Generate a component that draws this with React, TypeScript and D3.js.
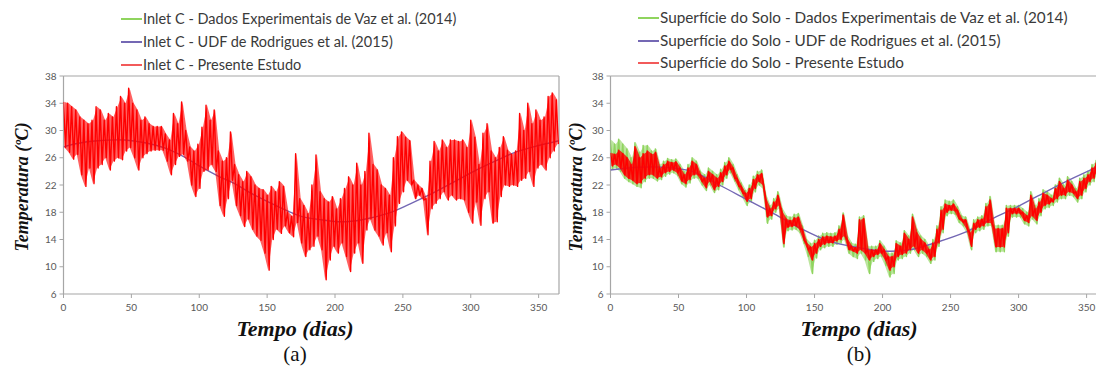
import React from 'react';
import * as d3 from 'd3';

// ---------- data ----------
const yTicks = [6, 10, 14, 18, 22, 26, 30, 34, 38];
const xTicks = [0, 50, 100, 150, 200, 250, 300, 350];
const sampleStep = 3; // days between samples of the daily max/min envelopes

const legendA = [
  'Inlet C - Dados Experimentais de Vaz et al. (2014)',
  'Inlet C - UDF de Rodrigues et al. (2015)',
  'Inlet C - Presente Estudo',
];
const legendB = [
  'Superfície do Solo - Dados Experimentais de Vaz et al. (2014)',
  'Superfície do Solo - UDF de Rodrigues et al. (2015)',
  'Superfície do Solo - Presente Estudo',
];

// Panel (a) – Presente Estudo, daily maxima / minima every 3 days
const redAMax = [34.2, 34.0, 33.5, 33.0, 32.0, 31.5, 31.0, 31.5, 33.5, 33.0, 31.5, 32.5, 32.0, 33.5, 35.0, 34.0, 36.2, 34.0, 33.0, 31.5,
  32.0, 31.0, 30.6, 30.6, 30.6, 29.5, 28.6, 32.5, 31.0, 34.2, 30.0, 27.6, 27.0, 28.0, 30.5, 33.7, 31.5, 33.0, 27.0, 25.5,
  26.0, 29.8, 25.0, 23.5, 22.5, 24.0, 23.2, 22.0, 21.5, 21.3, 20.5, 21.8, 21.0, 22.5, 21.8, 18.0, 17.4, 26.6, 20.0, 19.0,
  17.8, 22.0, 26.4, 21.0, 20.0, 19.5, 20.3, 18.5, 20.0, 21.5, 23.2, 22.0, 25.2, 22.0, 24.0, 29.6, 25.0, 24.2, 22.0, 21.5,
  20.5, 26.0, 29.1, 29.8, 29.0, 28.5, 22.7, 22.0, 21.5, 20.0, 25.5, 28.4, 27.0, 28.6, 27.5, 28.6, 28.6, 28.4, 28.6, 27.5,
  31.5, 29.0, 25.0, 29.6, 31.0, 27.0, 26.0, 27.5, 29.1, 27.1, 26.5, 27.0, 32.5, 30.0, 34.0, 31.0, 33.0, 31.5, 32.0, 35.0,
  35.5, 34.5];
const redAMin = [27.5, 26.8, 25.8, 26.5, 23.5, 21.8, 24.5, 22.2, 24.5, 25.0, 26.0, 24.2, 25.5, 26.0, 25.7, 27.0, 27.5, 26.0, 24.2, 26.0,
  26.6, 27.0, 27.1, 27.1, 27.1, 25.5, 23.5, 25.0, 26.2, 26.5, 25.5, 22.0, 20.3, 21.5, 24.0, 24.2, 25.0, 24.0, 19.0, 17.4,
  20.0, 22.7, 19.0, 17.5, 15.9, 17.0, 15.5, 14.5, 13.9, 12.0, 9.5, 14.0, 15.5, 14.9, 16.0, 15.0, 14.4, 16.5, 13.5, 11.5,
  12.5, 13.0, 14.5, 12.5, 8.1, 11.0, 13.0, 12.0, 13.5, 11.5, 9.3, 12.0, 13.5, 10.5, 15.4, 17.0, 15.4, 14.5, 13.2, 15.0,
  12.2, 16.0, 19.3, 21.0, 22.7, 22.0, 20.0, 20.5, 19.8, 14.7, 18.5, 19.3, 20.0, 21.0, 19.8, 20.5, 19.8, 20.0, 19.8, 18.0,
  16.4, 19.5, 16.1, 20.0, 21.0, 16.4, 16.6, 20.3, 22.0, 21.8, 22.0, 21.8, 22.7, 23.0, 24.0, 21.8, 24.5, 25.0, 24.2, 26.0,
  27.0, 28.0];

// Panel (a) – UDF de Rodrigues
const udfADays = [0, 10, 25, 45, 60, 75, 90, 100, 115, 125, 140, 150, 165, 175, 190, 205, 220, 240, 255, 272, 290, 304, 320, 334, 350, 365];
const udfAVals = [27.6, 28.1, 28.5, 28.6, 28.2, 27.4, 26.0, 24.8, 23.2, 22.3, 20.6, 19.6, 18.2, 17.4, 16.9, 16.6, 16.9, 17.9, 19.2, 20.8, 22.7, 24.2, 25.7, 26.9, 27.8, 28.5];

// Panel (b) – Presente Estudo, daily maxima / minima every 3 days
const redBMax = [26.7, 26.5, 27.1, 26.6, 26.0, 25.0, 27.6, 26.0, 26.6, 27.0, 26.5, 26.8, 24.5, 25.0, 25.5, 25.3, 25.4, 24.5, 23.5, 24.5,
  25.5, 25.0, 23.5, 23.0, 24.0, 23.5, 23.0, 23.8, 24.8, 25.5, 24.5, 23.0, 21.8, 20.8, 21.5, 22.8, 23.5, 23.7, 20.0, 18.5,
  19.5, 20.5, 18.0, 17.0, 16.8, 17.2, 17.3, 15.5, 13.5, 12.9, 13.4, 14.0, 14.4, 14.5, 14.4, 14.5, 15.5, 17.6, 14.0, 13.0,
  12.8, 16.9, 17.1, 12.5, 12.5, 12.5, 13.4, 12.5, 11.5, 11.5, 13.4, 13.0, 14.9, 14.0, 17.3, 15.0, 14.0, 13.5, 12.5, 13.5,
  15.5, 18.3, 19.2, 19.0, 19.2, 18.3, 17.0, 16.9, 15.0, 16.4, 16.9, 17.0, 18.8, 19.8, 15.6, 15.6, 15.6, 18.6, 18.6, 18.6,
  18.6, 18.0, 17.5, 20.5, 18.5, 19.5, 20.8, 20.5, 20.0, 21.5, 22.5, 21.5, 22.7, 22.0, 21.0, 22.5, 23.0, 23.5, 24.5, 25.2,
  25.5, 26.0];
const redBMin = [24.8, 25.0, 24.5, 23.5, 23.0, 22.7, 22.2, 22.3, 23.0, 23.5, 23.5, 23.0, 23.2, 23.8, 24.0, 24.2, 23.8, 22.6, 22.2, 22.8,
  23.5, 23.5, 22.5, 21.6, 22.5, 21.3, 21.8, 22.5, 23.5, 24.3, 23.0, 21.8, 20.8, 19.6, 20.0, 21.5, 22.5, 22.0, 17.3, 17.5,
  18.5, 19.0, 13.4, 15.8, 15.9, 16.0, 15.5, 13.9, 12.5, 11.0, 12.0, 13.0, 13.3, 13.5, 13.5, 13.8, 14.0, 14.5, 12.5, 12.3,
  12.0, 12.5, 12.0, 11.0, 11.5, 11.8, 12.0, 11.0, 9.5, 10.0, 11.5, 11.8, 12.0, 12.5, 13.0, 12.0, 12.5, 12.0, 11.0, 11.5,
  13.5, 15.5, 18.0, 18.3, 18.2, 17.0, 16.5, 15.5, 13.0, 15.5, 15.8, 16.0, 16.5, 16.4, 12.9, 12.9, 12.9, 15.0, 17.8, 17.8,
  17.8, 16.8, 16.5, 17.5, 16.8, 18.0, 19.0, 19.2, 19.5, 20.0, 20.5, 20.5, 21.0, 20.8, 20.0, 20.5, 21.5, 22.5, 23.0, 24.0,
  24.5, 25.0];

// Panel (b) – Dados Experimentais (Vaz), daily maxima / minima every 3 days
const greenBMax = [28.6, 28.0, 28.7, 28.0, 27.3, 26.0, 28.2, 26.8, 27.8, 27.8, 27.0, 27.3, 25.0, 25.5, 25.9, 25.7, 25.8, 25.0, 24.0, 25.0,
  26.0, 25.5, 24.0, 23.5, 24.5, 24.0, 23.5, 24.3, 25.3, 26.0, 25.0, 23.5, 22.3, 21.2, 22.0, 23.3, 24.0, 24.2, 20.5, 19.0,
  20.0, 21.0, 18.5, 17.5, 17.3, 17.7, 17.8, 16.0, 14.0, 13.4, 13.9, 14.5, 14.9, 15.0, 14.9, 15.0, 16.0, 17.9, 14.5, 13.5,
  13.3, 17.3, 17.5, 13.0, 13.0, 13.0, 13.8, 13.0, 12.0, 12.0, 13.8, 13.5, 15.3, 14.5, 17.7, 15.5, 14.5, 14.0, 13.0, 14.0,
  16.0, 18.8, 19.8, 19.6, 19.8, 18.8, 17.5, 17.3, 15.5, 16.9, 17.3, 17.5, 19.3, 20.3, 16.1, 16.1, 16.1, 19.0, 19.0, 19.0,
  19.0, 18.5, 18.0, 21.0, 19.0, 20.0, 21.3, 21.0, 20.5, 22.0, 23.0, 22.0, 23.2, 22.5, 21.5, 23.0, 23.5, 24.0, 25.0, 25.6,
  26.0, 26.5];
const greenBMin = [24.3, 24.5, 24.0, 23.0, 22.5, 22.2, 21.8, 21.6, 22.5, 23.0, 23.0, 22.6, 22.8, 23.3, 23.6, 23.8, 23.4, 22.2, 21.7, 22.3,
  23.0, 23.0, 22.0, 21.2, 22.0, 20.9, 21.3, 22.0, 23.0, 23.8, 22.6, 21.3, 20.2, 19.0, 19.5, 21.0, 22.0, 21.5, 16.4, 17.0,
  18.0, 18.5, 12.9, 15.3, 15.4, 15.5, 15.0, 13.4, 11.5, 9.0, 11.3, 12.5, 12.8, 13.0, 13.0, 13.3, 13.5, 14.0, 12.0, 11.5,
  11.2, 12.0, 11.0, 9.0, 10.8, 11.2, 11.5, 10.2, 8.5, 9.0, 11.0, 11.2, 11.5, 12.0, 12.5, 11.5, 12.0, 11.5, 10.5, 11.0,
  13.0, 15.0, 17.5, 17.8, 17.7, 16.5, 16.0, 15.0, 12.5, 15.0, 15.3, 15.5, 16.0, 16.0, 12.2, 12.2, 12.2, 14.5, 17.3, 17.3,
  17.3, 16.3, 16.0, 17.0, 16.3, 17.5, 18.5, 18.7, 19.0, 19.5, 20.0, 20.0, 20.5, 20.3, 19.5, 20.0, 21.0, 22.0, 22.5, 23.5,
  24.0, 24.5];

// Panel (b) – UDF de Rodrigues
const udfBDays = [0, 20, 40, 60, 80, 100, 120, 140, 160, 180, 200, 220, 240, 260, 280, 300, 320, 340, 365];
const udfBVals = [24.2, 24.6, 24.6, 24.0, 22.0, 19.9, 17.8, 15.6, 13.8, 12.9, 12.3, 12.5, 13.6, 15.0, 17.0, 18.9, 21.0, 23.0, 25.3];

// ---------- styling ----------
const RED = '#ff0000';
const GREEN = '#8fd45e';
const PURPLE = '#7468b4';
const AXIS = '#a6a6a6';
const TICK_TXT = '#595959';

type Pt = [number, number];
type Band = { d: number; hi: number; lo: number };

function zigzag(maxs: number[], mins: number[]): Pt[] {
  const pts: Pt[] = [];
  maxs.forEach((mx, i) => {
    const d = i * sampleStep;
    pts.push([d, mx]);
    pts.push([d + sampleStep / 2, mins[i]]);
  });
  return pts;
}

function band(maxs: number[], mins: number[]): Band[] {
  return maxs.map((mx, i) => ({ d: i * sampleStep + sampleStep / 4, hi: mx, lo: mins[i] }));
}

interface Series {
  maxs: number[];
  mins: number[];
  color: string;
  width: number;
  fillOpacity: number;
}

interface PanelProps {
  id: string;
  x0: number;
  x1: number;
  legend: string[];
  legendX: number;
  legendY: number[];
  legendSize: number;
  udfDays: number[];
  udfVals: number[];
  under: Series[];
  over: Series[];
  yTitleX: number;
  titleX: number;
  tag: string;
}

const TOP = 76;
const BOTTOM = 294;

function Panel(p: PanelProps) {
  const x = d3.scaleLinear().domain([0, 365]).range([p.x0, p.x1]);
  const y = d3.scaleLinear().domain([6, 38]).range([BOTTOM, TOP]);
  const line = d3.line<Pt>().x((d) => x(d[0])).y((d) => y(d[1]));
  const area = d3
    .area<Band>()
    .x((d) => x(d.d))
    .y0((d) => y(d.lo))
    .y1((d) => y(d.hi));
  const udf = d3
    .line<number>()
    .x((_, i) => x(p.udfDays[i]))
    .y((v) => y(v))
    .curve(d3.curveCatmullRom.alpha(0.5));
  const legendColors = [GREEN, PURPLE, '#f25a5a'];
  const drawSeries = (s: Series, i: number) => (
    <g key={i}>
      <path d={area(band(s.maxs, s.mins)) || ''} fill={s.color} fillOpacity={s.fillOpacity} stroke="none" />
      <path d={line(zigzag(s.maxs, s.mins)) || ''} fill="none" stroke={s.color} strokeWidth={s.width} strokeLinejoin="round" />
    </g>
  );
  return (
    <g>
      <defs>
        <clipPath id={`clip-${p.id}`}>
          <rect x={p.x0} y={TOP} width={p.x1 - p.x0} height={BOTTOM - TOP} />
        </clipPath>
      </defs>
      {/* frame */}
      <line x1={p.x0} y1={TOP} x2={p.x1} y2={TOP} stroke={AXIS} strokeWidth={1.2} />
      <line x1={p.x1} y1={TOP} x2={p.x1} y2={BOTTOM} stroke={AXIS} strokeWidth={1.2} />
      <line x1={p.x0} y1={TOP} x2={p.x0} y2={BOTTOM} stroke={AXIS} strokeWidth={1.2} />
      <line x1={p.x0} y1={BOTTOM} x2={p.x1} y2={BOTTOM} stroke={AXIS} strokeWidth={1.2} />
      {yTicks.map((t) => (
        <g key={`y${t}`}>
          <line x1={p.x0 - 4} x2={p.x0} y1={y(t)} y2={y(t)} stroke={AXIS} />
          <text x={p.x0 - 7} y={y(t)} dy="0.35em" textAnchor="end" fontSize={10} fill={TICK_TXT} fontFamily="Lato, sans-serif">
            {t}
          </text>
        </g>
      ))}
      {xTicks.map((t) => (
        <g key={`x${t}`}>
          <line x1={x(t)} x2={x(t)} y1={BOTTOM} y2={BOTTOM + 4} stroke={AXIS} />
          <text x={x(t)} y={311} textAnchor="middle" fontSize={10} fill={TICK_TXT} fontFamily="Lato, sans-serif">
            {t}
          </text>
        </g>
      ))}
      <g clipPath={`url(#clip-${p.id})`}>
        {p.under.map(drawSeries)}
        <path d={udf(p.udfVals) || ''} fill="none" stroke={PURPLE} strokeWidth={1.4} />
        {p.over.map(drawSeries)}
      </g>
      {/* legend */}
      {p.legend.map((l, i) => (
        <g key={l}>
          <line x1={p.legendX - 22} x2={p.legendX - 1} y1={p.legendY[i]} y2={p.legendY[i]} stroke={legendColors[i]} strokeWidth={2} />
          <text x={p.legendX} y={p.legendY[i]} dy="0.35em" fontSize={p.legendSize} fill="#3a3a3a" fontFamily="Lato, sans-serif">
            {l}
          </text>
        </g>
      ))}
      {/* axis titles */}
      <text
        transform={`translate(${p.yTitleX},${(TOP + BOTTOM) / 2 + 2}) rotate(-90)`}
        textAnchor="middle"
        dy="0.35em"
        fontFamily="'Liberation Serif', 'Times New Roman', serif"
        fontStyle="italic"
        fontWeight="bold"
        fontSize={18}
        fill="#111"
      >
        Temperatura (ºC)
      </text>
      <text x={p.titleX} y={336} textAnchor="middle" fontFamily="'Liberation Serif', 'Times New Roman', serif" fontStyle="italic" fontWeight="bold" fontSize={22} fill="#111">
        Tempo (dias)
      </text>
      <text x={p.titleX} y={361} textAnchor="middle" fontFamily="'Liberation Serif', 'Times New Roman', serif" fontSize={21} fill="#111">
        {p.tag}
      </text>
    </g>
  );
}

export default function App() {
  return (
    <svg width={1096} height={367} style={{ position: 'absolute', left: 0, top: 0, background: '#fff' }}>
      <rect width={1096} height={367} fill="#fff" />
      <Panel
        id="a"
        x0={63.5}
        x1={559}
        legend={legendA}
        legendX={143}
        legendY={[19, 42, 65]}
        legendSize={14.5}
        udfDays={udfADays}
        udfVals={udfAVals}
        under={[]}
        over={[{ maxs: redAMax, mins: redAMin, color: RED, width: 1.4, fillOpacity: 0.62 }]}
        yTitleX={22}
        titleX={295}
        tag="(a)"
      />
      <Panel
        id="b"
        x0={610.5}
        x1={1107}
        legend={legendB}
        legendX={660}
        legendY={[18, 41, 63]}
        legendSize={15.3}
        udfDays={udfBDays}
        udfVals={udfBVals}
        under={[{ maxs: greenBMax, mins: greenBMin, color: GREEN, width: 1.5, fillOpacity: 0.6 }]}
        over={[{ maxs: redBMax, mins: redBMin, color: RED, width: 1.5, fillOpacity: 0.8 }]}
        yTitleX={576}
        titleX={859}
        tag="(b)"
      />
    </svg>
  );
}
